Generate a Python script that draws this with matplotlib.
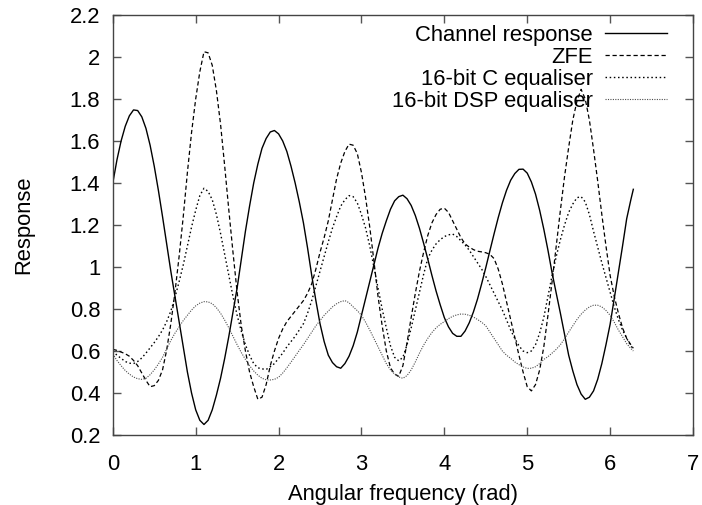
import matplotlib
matplotlib.use("Agg")
import matplotlib.pyplot as plt
from matplotlib.lines import Line2D
from matplotlib.ticker import FuncFormatter, MultipleLocator

plt.rcParams['font.family'] = ['Liberation Sans', 'DejaVu Sans']

freq = [0.00, 0.05, 0.10, 0.15, 0.20, 0.25, 0.30, 0.35, 0.40, 0.45,
        0.50, 0.55, 0.60, 0.65, 0.70, 0.75, 0.80, 0.85, 0.90, 0.95,
        1.00, 1.05, 1.10, 1.15, 1.20, 1.25, 1.30, 1.35, 1.40, 1.45,
        1.50, 1.55, 1.60, 1.65, 1.70, 1.75, 1.80, 1.85, 1.90, 1.95,
        2.00, 2.05, 2.10, 2.15, 2.20, 2.25, 2.30, 2.35, 2.40, 2.45,
        2.50, 2.55, 2.60, 2.65, 2.70, 2.75, 2.80, 2.85, 2.90, 2.95,
        3.00, 3.05, 3.10, 3.15, 3.20, 3.25, 3.30, 3.35, 3.40, 3.45,
        3.50, 3.55, 3.60, 3.65, 3.70, 3.75, 3.80, 3.85, 3.90, 3.95,
        4.00, 4.05, 4.10, 4.15, 4.20, 4.25, 4.30, 4.35, 4.40, 4.45,
        4.50, 4.55, 4.60, 4.65, 4.70, 4.75, 4.80, 4.85, 4.90, 4.95,
        5.00, 5.05, 5.10, 5.15, 5.20, 5.25, 5.30, 5.35, 5.40, 5.45,
        5.50, 5.55, 5.60, 5.65, 5.70, 5.75, 5.80, 5.85, 5.90, 5.95,
        6.00, 6.05, 6.10, 6.15, 6.20, 6.25, 6.28]

channel = [1.40, 1.51, 1.60, 1.67, 1.72, 1.748, 1.745, 1.715, 1.66, 1.58,
           1.48, 1.365, 1.24, 1.11, 0.98, 0.86, 0.74, 0.62, 0.50, 0.40,
           0.32, 0.27, 0.25, 0.27, 0.32, 0.39, 0.47, 0.565, 0.67, 0.785,
           0.90, 1.035, 1.17, 1.29, 1.40, 1.49, 1.565, 1.612, 1.643, 1.65,
           1.634, 1.60, 1.55, 1.48, 1.40, 1.31, 1.21, 1.09, 0.96, 0.84,
           0.73, 0.645, 0.58, 0.545, 0.525, 0.518, 0.54, 0.575, 0.625, 0.69,
           0.77, 0.85, 0.93, 1.01, 1.09, 1.16, 1.22, 1.275, 1.315, 1.335,
           1.342, 1.325, 1.293, 1.245, 1.184, 1.113, 1.038, 0.96, 0.886, 0.82,
           0.759, 0.715, 0.684, 0.67, 0.67, 0.695, 0.734, 0.785, 0.847, 0.92,
           0.997, 1.078, 1.158, 1.235, 1.305, 1.365, 1.413, 1.445, 1.465, 1.466,
           1.447, 1.405, 1.347, 1.27, 1.18, 1.08, 0.972, 0.875, 0.78, 0.68,
           0.58, 0.505, 0.44, 0.395, 0.37, 0.38, 0.41, 0.465, 0.54, 0.63,
           0.727, 0.85, 0.975, 1.10, 1.23, 1.32, 1.37]

zfe = [0.608, 0.603, 0.595, 0.587, 0.575, 0.555, 0.53, 0.495, 0.46, 0.43,
       0.435, 0.46, 0.51, 0.605, 0.73, 0.88, 1.05, 1.24, 1.45, 1.64,
       1.80, 1.93, 2.025, 2.02, 1.96, 1.84, 1.68, 1.48, 1.27, 1.07,
       0.88, 0.72, 0.60, 0.50, 0.43, 0.37, 0.38, 0.44, 0.53, 0.60,
       0.66, 0.705, 0.74, 0.765, 0.79, 0.815, 0.84, 0.875, 0.92, 0.99,
       1.07, 1.14, 1.22, 1.32, 1.42, 1.495, 1.55, 1.585, 1.58, 1.54,
       1.45, 1.33, 1.19, 1.03, 0.86, 0.72, 0.60, 0.52, 0.49, 0.48,
       0.53, 0.64, 0.76, 0.875, 0.98, 1.07, 1.15, 1.21, 1.25, 1.275,
       1.28, 1.26, 1.22, 1.18, 1.14, 1.11, 1.095, 1.083, 1.075, 1.072,
       1.068, 1.06, 1.04, 0.99, 0.92, 0.835, 0.75, 0.665, 0.58, 0.50,
       0.43, 0.41, 0.44, 0.51, 0.62, 0.77, 0.93, 1.10, 1.27, 1.43,
       1.57, 1.70, 1.79, 1.846, 1.80, 1.70, 1.56, 1.41, 1.25, 1.10,
       0.96, 0.86, 0.78, 0.71, 0.66, 0.63, 0.613]

c_eq = [0.60, 0.58, 0.565, 0.55, 0.542, 0.54, 0.55, 0.567, 0.59, 0.615,
        0.64, 0.668, 0.70, 0.74, 0.79, 0.855, 0.93, 1.01, 1.10, 1.19,
        1.27, 1.34, 1.375, 1.36, 1.32, 1.25, 1.16, 1.06, 0.96, 0.86,
        0.77, 0.695, 0.63, 0.58, 0.54, 0.52, 0.515, 0.512, 0.525, 0.54,
        0.565, 0.59, 0.62, 0.645, 0.67, 0.70, 0.73, 0.78, 0.84, 0.91,
        0.98, 1.05, 1.12, 1.185, 1.24, 1.29, 1.32, 1.34, 1.335, 1.305,
        1.25, 1.185, 1.10, 1.00, 0.90, 0.80, 0.71, 0.625, 0.57, 0.553,
        0.57, 0.63, 0.71, 0.795, 0.88, 0.965, 1.04, 1.08, 1.11, 1.13,
        1.145, 1.153, 1.157, 1.145, 1.125, 1.105, 1.08, 1.05, 1.02, 0.99,
        0.955, 0.915, 0.875, 0.835, 0.795, 0.748, 0.70, 0.66, 0.625, 0.60,
        0.592, 0.60, 0.63, 0.685, 0.76, 0.86, 0.96, 1.05, 1.13, 1.20,
        1.26, 1.30, 1.33, 1.335, 1.31, 1.25, 1.17, 1.095, 1.02, 0.95,
        0.88, 0.81, 0.75, 0.70, 0.66, 0.625, 0.61]

dsp_eq = [0.586, 0.555, 0.53, 0.507, 0.49, 0.476, 0.468, 0.465, 0.47, 0.487,
          0.51, 0.538, 0.57, 0.61, 0.65, 0.685, 0.715, 0.745, 0.77, 0.795,
          0.815, 0.828, 0.835, 0.834, 0.825, 0.806, 0.78, 0.747, 0.71, 0.67,
          0.63, 0.593, 0.56, 0.53, 0.505, 0.485, 0.47, 0.463, 0.462, 0.465,
          0.475, 0.495, 0.52, 0.547, 0.575, 0.603, 0.63, 0.66, 0.69, 0.72,
          0.745, 0.77, 0.79, 0.81, 0.825, 0.835, 0.84, 0.83, 0.81, 0.792,
          0.77, 0.737, 0.70, 0.66, 0.62, 0.58, 0.54, 0.51, 0.49, 0.476,
          0.47, 0.483, 0.51, 0.548, 0.59, 0.628, 0.66, 0.688, 0.71, 0.727,
          0.74, 0.754, 0.765, 0.772, 0.776, 0.775, 0.77, 0.762, 0.75, 0.737,
          0.72, 0.69, 0.66, 0.63, 0.60, 0.58, 0.565, 0.548, 0.535, 0.524,
          0.517, 0.518, 0.525, 0.54, 0.56, 0.573, 0.59, 0.608, 0.63, 0.658,
          0.69, 0.72, 0.75, 0.775, 0.795, 0.81, 0.818, 0.818, 0.81, 0.793,
          0.77, 0.737, 0.70, 0.668, 0.635, 0.612, 0.60]

labels = ["Channel response", "ZFE", "16-bit C equaliser", "16-bit DSP equaliser"]

W, H = 702, 505
FS = 15.8
fig = plt.figure(figsize=(W / 100, H / 100), dpi=100)
L, R, T, B = 112.8, 693.0, 15.0, 435.0
ax = fig.add_axes([L / W, 1 - B / H, (R - L) / W, (B - T) / H])

styles = [
    dict(color='black', lw=1.0, linestyle='-'),
    dict(color='black', lw=0.9, linestyle=(0, (3.4, 2.2))),
    dict(color='black', lw=1.0, linestyle=(0, (1.1, 1.9))),
    dict(color='0.3', lw=0.8, linestyle=(0, (1.0, 1.2))),
]
series = [channel, zfe, c_eq, dsp_eq]
for s, st in zip(series, styles):
    ax.plot(freq, s, **st)

ax.set_xlim(0, 7)
ax.set_ylim(0.2, 2.2)
ax.xaxis.set_major_locator(MultipleLocator(1))
ax.yaxis.set_major_locator(MultipleLocator(0.2))
fmt = FuncFormatter(lambda v, p: ('%g' % round(v, 2)))
ax.xaxis.set_major_formatter(fmt)
ax.yaxis.set_major_formatter(fmt)
ax.tick_params(direction='in', length=6, width=1, color='#555555',
               top=True, right=True, labelsize=FS)
ax.tick_params(axis='x', pad=14)
ax.tick_params(axis='y', pad=9)
for sp in ax.spines.values():
    sp.set_color('#444444')
    sp.set_linewidth(1.0)

fig.text((L + R) / 2 / W, 1 - 500 / H, "Angular frequency (rad)", ha='center',
         va='baseline', fontsize=FS)
fig.text(24 / W, 1 - 225 / H, "Response", ha='center', va='center',
         rotation=90, fontsize=FS)

# legend (gnuplot-style: right-aligned text, sample on the right)
for i, (lab, st) in enumerate(zip(labels, styles)):
    yc = 33.3 + 22.0 * i
    fig.text(593 / W, 1 - (yc + 7.5) / H, lab, ha='right', va='baseline', fontsize=FS)
    fig.add_artist(Line2D([605 / W, 667 / W], [1 - yc / H, 1 - yc / H],
                          transform=fig.transFigure, **st))

fig.savefig("out.png", dpi=100)
